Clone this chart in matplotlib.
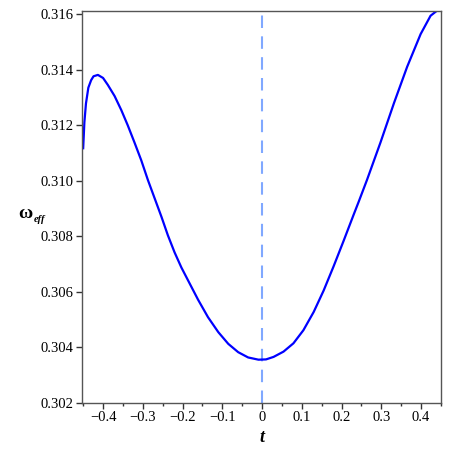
import matplotlib
matplotlib.use("Agg")
import matplotlib.pyplot as plt
from matplotlib.ticker import MultipleLocator

# values
t = [-0.450, -0.447, -0.443, -0.437, -0.430, -0.424, -0.413, -0.400, -0.388, -0.371,
     -0.354, -0.338, -0.321, -0.304, -0.287, -0.270, -0.253, -0.237, -0.220, -0.203,
     -0.190, -0.161, -0.136, -0.110, -0.085, -0.060, -0.035, -0.009, 0.010, 0.029,
     0.054, 0.079, 0.104, 0.130, 0.155, 0.180, 0.205, 0.231, 0.243, 0.264,
     0.298, 0.332, 0.365, 0.399, 0.424, 0.440, 0.450]
omega_eff = [0.31117, 0.31210, 0.31278, 0.31335, 0.31362, 0.31376, 0.31381, 0.31370, 0.31345, 0.31305,
             0.31254, 0.31200, 0.31138, 0.31074, 0.31002, 0.30936, 0.30870, 0.30804, 0.30742, 0.30688,
             0.30652, 0.30572, 0.30509, 0.30455, 0.30413, 0.30383, 0.30364, 0.30356, 0.30357, 0.30366,
             0.30385, 0.30415, 0.30462, 0.30528, 0.30605, 0.30692, 0.30783, 0.30880, 0.30924, 0.31003,
             0.31138, 0.31280, 0.31410, 0.31528, 0.31594, 0.31612, 0.31618]
t_mark = 0.0
xticks = [-0.4, -0.3, -0.2, -0.1, 0, 0.1, 0.2, 0.3, 0.4]
xticklabels = ["\u22120.4", "\u22120.3", "\u22120.2", "\u22120.1", "0", "0.1", "0.2", "0.3", "0.4"]
yticks = [0.302, 0.304, 0.306, 0.308, 0.310, 0.312, 0.314, 0.316]

plt.rcParams["font.family"] = ["Liberation Serif", "DejaVu Serif"]
fig = plt.figure(figsize=(4.49, 4.49), dpi=100)
ax = fig.add_axes([0.1826, 0.1024, 0.7994, 0.8731])

ax.axvline(t_mark, color="#80a8ff", lw=1.5, ls=(0, (6, 4)), zorder=1)
ax.plot(t, omega_eff, color="#0000ff", lw=1.6, zorder=2, solid_joinstyle="round")

ax.set_xlim(-0.453, 0.450)
ax.set_ylim(0.302, 0.31611)
ax.set_xticks(xticks)
ax.set_xticklabels(xticklabels)
ax.set_yticks(yticks)
ax.set_yticklabels([f"{v:.3f}" for v in yticks])
ax.xaxis.set_minor_locator(MultipleLocator(0.05))

for s in ax.spines.values():
    s.set_color("#555555")
    s.set_linewidth(1.0)
ax.tick_params(which="major", direction="out", length=4, width=1, color="#333333",
               labelsize=10.5, pad=2)
ax.tick_params(which="minor", direction="out", length=2.5, width=1, color="#333333")

fig.text(18 / 449, 1 - 213 / 449, "\u03c9", fontsize=14, fontweight="bold", ha="left", va="center")
fig.text(34 / 449, 1 - 219 / 449, "eff", fontsize=7.5, fontweight="bold", style="italic",
         ha="left", va="center")
fig.text(262 / 449, 1 - 437 / 449, "t", fontsize=13, fontweight="bold", style="italic",
         ha="center", va="center")

fig.savefig("out.png", dpi=100)
